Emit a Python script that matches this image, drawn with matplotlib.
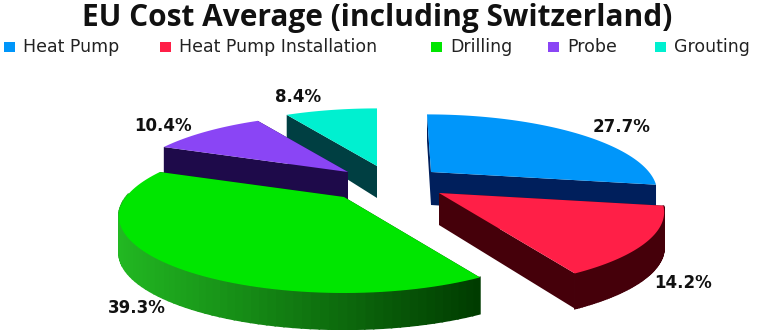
import numpy as np
import matplotlib
matplotlib.use('Agg')
import matplotlib.pyplot as plt
from matplotlib.colors import to_rgb
from matplotlib.patches import Rectangle

categories = ['Heat Pump', 'Heat Pump Installation', 'Drilling', 'Probe', 'Grouting']
shares = [27.7, 14.2, 39.3, 10.4, 8.4]

top_colors = ['#0096fa', '#ff1f47', '#00e600', '#8a45f5', '#00f0d0']
wall_colors = ['#001f5c', '#45000a', '#003c00', '#1e0a4a', '#003f42']
# rim shading runs from left to right across the slice
rim_left = ['#001f5c', '#45000a', '#22b822', '#1e0a4a', '#003f42']
rim_right = ['#001f5c', '#45000a', '#003c00', '#1e0a4a', '#003f42']

# exploded apex of each slice, in image pixels
apex = [(431, 172), (439, 193), (344, 197), (348, 172), (377, 166)]
lean = [-4, 0, 0, 0, 0]
depth = [33, 32, 33, 29, 32]
rim_cut = [-0.2, 0.02, 0.02, 0.02, 0.02]
label_pos = [(622, 127), (683, 283), (137, 308), (163, 126), (298, 97)]
legend_x = [4, 160, 431, 548, 655]

RADIUS = 218
FLAT = 72
VIEW = 4.0
draw_order = [4, 3, 0, 2, 1]


def project(angle, ox, oy, drop=0.0, skew=0):
    # angle is clockwise from the back of the pie, simple perspective on top
    u = np.sin(angle)
    v = np.cos(angle)
    s = VIEW / (VIEW + v)
    return ox + RADIUS * u * s + skew * v, oy - FLAT * v * s + drop * np.minimum(s, 1.1)


fig, ax = plt.subplots(figsize=(7.61, 3.30), dpi=100)
fig.subplots_adjust(0, 0, 1, 1)
ax.set_xlim(0, 761)
ax.set_ylim(330, 0)
ax.axis('off')

edges = np.radians(np.concatenate([[0], np.cumsum(shares)]) * 3.6)

for i in draw_order:
    ox, oy = apex[i]
    t = np.linspace(edges[i], edges[i + 1], 80)
    xt, yt = project(t, ox, oy, skew=lean[i])
    xb, yb = project(t, ox, oy, drop=depth[i], skew=lean[i])

    # the two radial walls
    for k in (0, -1):
        ax.fill([ox, xt[k], xb[k], ox], [oy, yt[k], yb[k], oy + depth[i]],
                color=wall_colors[i], lw=0)

    # outer rim, front half only, shaded quad by quad
    left, right = np.array(to_rgb(rim_left[i])), np.array(to_rgb(rim_right[i]))
    span = max(xt.max() - xt.min(), 1)
    for j in range(len(t) - 1):
        if np.cos(t[j]) > rim_cut[i]:
            continue
        f = (xt[j] - xt.min()) / span
        ax.fill([xt[j], xt[j + 1], xb[j + 1], xb[j]],
                [yt[j], yt[j + 1], yb[j + 1], yb[j]],
                color=left + (right - left) * f, lw=1.2)

    ax.fill(np.r_[ox, xt], np.r_[oy, yt], color=top_colors[i], lw=0)

    ax.text(*label_pos[i], f'{shares[i]:.1f}%', ha='center', va='center',
            fontsize=12, fontweight='bold', family='DejaVu Sans', color='#111111')

ax.text(377, 18, 'EU Cost Average (including Switzerland)', ha='center', va='center',
        fontsize=21.5, fontweight='bold', family='Open Sans', color='#111111')

for name, color, x in zip(categories, top_colors, legend_x):
    ax.add_patch(Rectangle((x, 42), 11, 10, color=color, lw=0))
    ax.text(x + 19, 47, name, ha='left', va='center', fontsize=12.5,
            family='DejaVu Sans', color='#222222')

fig.savefig('out.png', dpi=100)
